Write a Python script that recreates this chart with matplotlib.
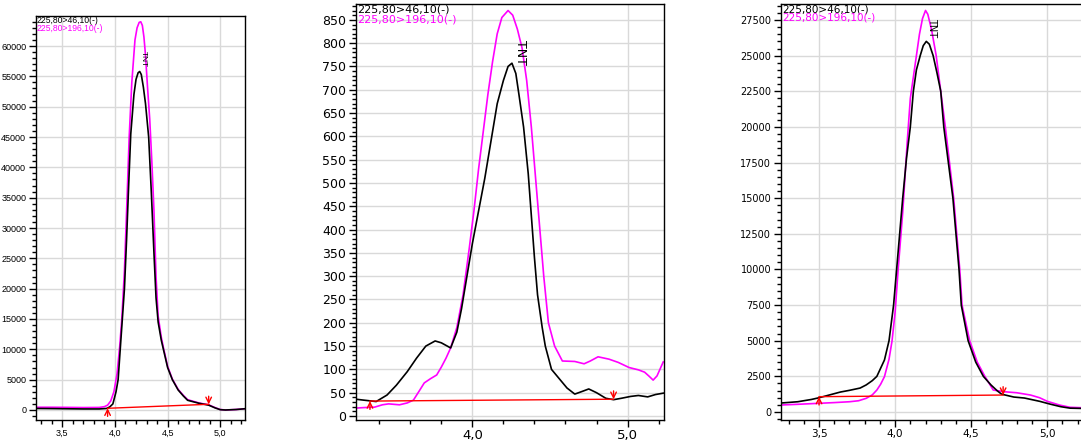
import matplotlib
matplotlib.use("Agg")
import matplotlib.pyplot as plt
from matplotlib.ticker import MultipleLocator, FuncFormatter

BLACK_LABEL = "225,80>46,10(-)"
MAGENTA_LABEL = "225,80>196,10(-)"
PEAK_LABEL = "TNT"

# panel 1
t1_black = [3.25, 3.40, 3.55, 3.70, 3.85, 3.92, 3.95, 3.98, 4.01, 4.03, 4.05, 4.07, 4.09, 4.11, 4.13,
            4.15, 4.18, 4.20, 4.22, 4.235, 4.25, 4.27, 4.29, 4.32, 4.345, 4.37, 4.39, 4.41, 4.44, 4.46,
            4.50, 4.545, 4.60, 4.65, 4.69, 4.80, 4.89, 4.95, 5.00, 5.05, 5.15, 5.23]
y1_black = [250, 230, 200, 170, 170, 250, 500, 1000, 3000, 5000, 10000, 15000, 20000, 28000, 37000,
            45500, 52000, 54500, 55600, 55800, 55300, 53200, 50500, 45000, 36000, 26000, 18500, 14500, 11500, 10000,
            7000, 5000, 3300, 2300, 1600, 1100, 800, 350, 50, 0, 80, 200]
t1_mag = [3.25, 3.40, 3.55, 3.70, 3.85, 3.90, 3.93, 3.96, 3.99, 4.02, 4.045, 4.065, 4.09, 4.115, 4.135,
          4.16, 4.19, 4.21, 4.23, 4.245, 4.26, 4.275, 4.29, 4.31, 4.33, 4.35, 4.37, 4.39, 4.41, 4.44,
          4.46, 4.50, 4.545, 4.60, 4.65, 4.69, 4.80, 4.89, 4.95, 5.00, 5.05, 5.15, 5.23]
y1_mag = [450, 450, 430, 400, 420, 550, 800, 1500, 3000, 6000, 10500, 15000, 23000, 35000, 45000,
          54000, 61000, 63000, 63900, 64000, 63400, 61500, 58500, 53000, 48000, 41000, 33000, 22000, 15500, 12000,
          10300, 7200, 5100, 3400, 2400, 1700, 1150, 850, 400, 80, 0, 80, 200]
base1_t = [3.93, 4.89]
base1_y = [280, 940]

# panel 2
t2_black = [3.25, 3.30, 3.38, 3.45, 3.51, 3.58, 3.64, 3.70, 3.76, 3.80, 3.86, 3.90, 3.93, 3.96, 4.00,
            4.04, 4.08, 4.12, 4.16, 4.20, 4.23, 4.255, 4.28, 4.30, 4.33, 4.36, 4.38, 4.40, 4.42, 4.45,
            4.47, 4.51, 4.56, 4.61, 4.66, 4.71, 4.75, 4.80, 4.86, 4.91, 4.96, 5.02, 5.07, 5.13, 5.18, 5.23]
y2_black = [36, 34, 31, 45, 66, 95, 124, 150, 161, 157, 146, 180, 230, 290, 370,
            440, 510, 590, 670, 720, 750, 757, 735, 690, 620, 520, 430, 340, 260, 190,
            150, 100, 80, 60, 47, 53, 58, 50, 38, 35, 38, 42, 44, 41, 46, 49]
t2_mag = [3.25, 3.30, 3.37, 3.42, 3.46, 3.53, 3.58, 3.62, 3.66, 3.69, 3.73, 3.77, 3.80, 3.83, 3.86,
          3.90, 3.94, 3.98, 4.01, 4.04, 4.07, 4.10, 4.13, 4.16, 4.19, 4.23, 4.26, 4.29, 4.32, 4.35,
          4.38, 4.41, 4.435, 4.46, 4.49, 4.53, 4.58, 4.66, 4.72, 4.76, 4.81, 4.88, 4.94, 5.01, 5.07,
          5.11, 5.14, 5.165, 5.19, 5.23]
y2_mag = [17, 18, 19, 24, 26, 24, 28, 34, 55, 71, 80, 88, 105, 124, 146,
          190, 260, 360, 440, 530, 610, 690, 760, 820, 855, 870, 860, 830, 790, 720,
          620, 500, 400, 300, 200, 150, 118, 117, 112, 118, 127, 122, 115, 104, 99,
          94, 85, 77, 86, 116]
base2_t = [3.34, 4.91]
base2_y = [32, 36]

# panel 3
t3_black = [3.25, 3.36, 3.45, 3.50, 3.57, 3.64, 3.70, 3.77, 3.81, 3.85, 3.88, 3.93, 3.96, 3.99, 4.01,
            4.05, 4.075, 4.10, 4.12, 4.14, 4.165, 4.185, 4.205, 4.225, 4.25, 4.275, 4.30, 4.32, 4.38, 4.42,
            4.435, 4.48, 4.53, 4.58, 4.63, 4.67, 4.70, 4.78, 4.85, 4.95, 5.02, 5.09, 5.15, 5.23]
y3_black = [630, 720, 880, 1000, 1200, 1400, 1520, 1680, 1900, 2200, 2500, 3650, 5000, 7500, 10000,
            15000, 17800, 20000, 22500, 24000, 25000, 25700, 26000, 25800, 25000, 23800, 22500, 20000, 15000, 10000,
            7500, 5000, 3500, 2500, 1900, 1500, 1250, 1050, 980, 750, 550, 370, 270, 250]
t3_mag = [3.25, 3.36, 3.50, 3.60, 3.70, 3.76, 3.81, 3.85, 3.88, 3.905, 3.93, 3.96, 3.98, 4.00, 4.02,
          4.05, 4.08, 4.10, 4.14, 4.16, 4.18, 4.20, 4.215, 4.24, 4.27, 4.30, 4.33, 4.385, 4.425, 4.44,
          4.49, 4.54, 4.59, 4.645, 4.72, 4.80, 4.89, 4.95, 5.00, 5.08, 5.15, 5.23]
y3_mag = [490, 540, 610, 660, 720, 790, 960, 1200, 1540, 1950, 2480, 3700, 5000, 7000, 10000,
          14000, 19000, 22000, 25000, 26500, 27600, 28170, 27900, 26800, 25000, 22500, 20000, 15000, 10000, 7500,
          5000, 3500, 2500, 1540, 1420, 1350, 1190, 1000, 750, 490, 330, 300]
base3_t = [3.50, 4.71]
base3_y = [1075, 1190]

fig = plt.figure(figsize=(10.81, 4.41), dpi=100)

panels = [
    # rect, data, ylim, xmaj, xmin, ymaj, ymin, fonts(ytick, xtick, legend, peak), family, peak pos, line gap
    ([36/1081, 21/441, 209/1081, 404/441], (t1_black, y1_black, t1_mag, y1_mag, base1_t, base1_y),
     (-1650, 64950), 0.5, 0.1, 5000, 1000, (6.5, 6.5, 6.2, 6), "Liberation Sans", (4.27, 57800), 8),
    ([356/1081, 21/441, 308/1081, 416/441], (t2_black, y2_black, t2_mag, y2_mag, base2_t, base2_y),
     (-8.6, 884), 1.0, 0.2, 50, 10, (9, 9.5, 8, 9), "DejaVu Sans", (4.31, 781), 10.5),
    ([781/1081, 21/441, 302/1081, 416/441], (t3_black, y3_black, t3_mag, y3_mag, base3_t, base3_y),
     (-561, 28622), 0.5, 0.1, 2500, 500, (7, 7.5, 7.5, 7), "DejaVu Sans", (4.24, 26940), 9),
]

comma_fmt = FuncFormatter(lambda v, p: f"{v:.1f}".replace(".", ","))
int_fmt = FuncFormatter(lambda v, p: f"{v:.0f}")

for rect, data, ylim, xmaj, xmin, ymaj, ymin, fs, fam, peak, gap in panels:
    tb, yb, tm, ym, bt, by = data
    ax = fig.add_axes(rect)
    ax.grid(True, color="#d9d9d9", linewidth=1.0)
    ax.set_axisbelow(True)
    ax.plot(tm, ym, color="#ff00ff", linewidth=1.2)
    ax.plot(tb, yb, color="black", linewidth=1.2)
    ax.plot(bt, by, color="red", linewidth=1.0)
    dy = (ylim[1] - ylim[0]) * 0.02
    ax.annotate("", xy=(bt[0], by[0]), xytext=(bt[0], by[0] - dy),
                arrowprops=dict(arrowstyle="->", color="red", lw=1.0, shrinkA=0, shrinkB=0))
    ax.annotate("", xy=(bt[1], by[1]), xytext=(bt[1], by[1] + dy),
                arrowprops=dict(arrowstyle="->", color="red", lw=1.0, shrinkA=0, shrinkB=0))
    ax.set_xlim(3.25, 5.235)
    ax.set_ylim(*ylim)
    ax.xaxis.set_major_locator(MultipleLocator(xmaj))
    ax.xaxis.set_minor_locator(MultipleLocator(xmin))
    ax.yaxis.set_major_locator(MultipleLocator(ymaj))
    ax.yaxis.set_minor_locator(MultipleLocator(ymin))
    ax.xaxis.set_major_formatter(comma_fmt)
    ax.yaxis.set_major_formatter(int_fmt)
    ax.tick_params(axis="both", which="major", length=5, width=1, color="black", pad=2)
    ax.tick_params(axis="x", which="major", pad=1.5)
    ax.tick_params(axis="both", which="minor", length=3, width=1, color="black")
    ax.tick_params(axis="y", labelsize=fs[0], colors="black")
    ax.tick_params(axis="x", labelsize=fs[1], colors="black")
    for lab in ax.get_xticklabels() + ax.get_yticklabels():
        lab.set_family(fam)
    for sp in ax.spines.values():
        sp.set_linewidth(1.0)
    h = rect[3] * 441
    ax.text(0.004, 1.0, BLACK_LABEL, transform=ax.transAxes, ha="left", va="top",
            fontsize=fs[2], family=fam, color="black")
    ax.text(0.004, 1.0 - gap / h, MAGENTA_LABEL, transform=ax.transAxes, ha="left", va="top",
            fontsize=fs[2], family=fam, color="#ff00ff")
    ax.text(peak[0], peak[1], PEAK_LABEL, rotation=270, ha="center", va="center",
            fontsize=fs[3], family=fam, color="black")

fig.savefig("out.png", dpi=100)
